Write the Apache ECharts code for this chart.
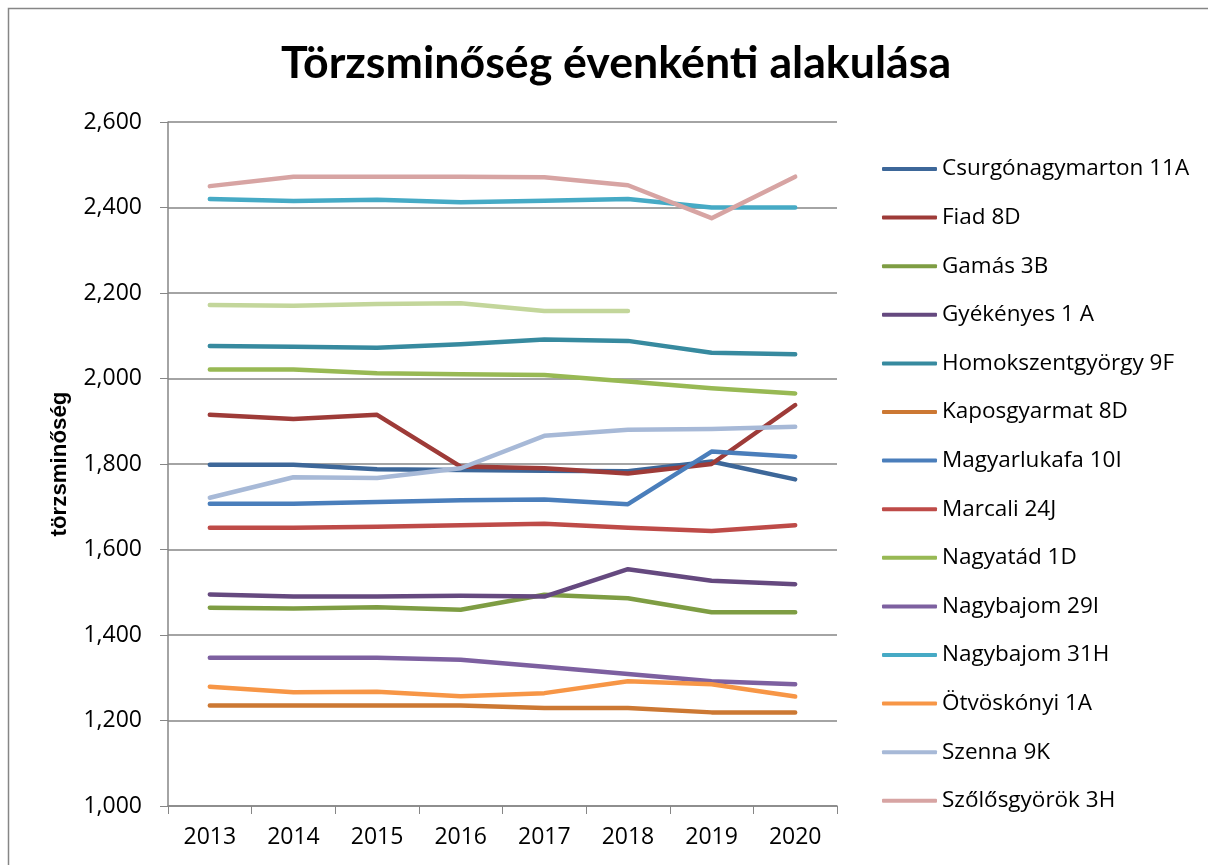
<!DOCTYPE html>
<html>
<head>
<meta charset="utf-8">
<title>Törzsminőség évenkénti alakulása</title>
<script src="https://cdn.jsdelivr.net/npm/echarts@6/dist/echarts.min.js"></script>
<style>
  html, body { margin: 0; padding: 0; background: #fff; }
  #chart { width: 1208px; height: 865px; }
</style>
</head>
<body>
<div id="chart"></div>
<script>
// évek
var years = ['2013', '2014', '2015', '2016', '2017', '2018', '2019', '2020'];

// sorozatok (értékek)
var csurgonagymarton = [1798, 1798, 1788, 1786, 1784, 1783, 1806, 1764];
var fiad = [1915, 1905, 1915, 1794, 1790, 1778, 1800, 1938];
var gamas = [1464, 1462, 1465, 1459, 1494, 1486, 1453, 1453];
var gyekenyes = [1495, 1490, 1490, 1492, 1490, 1554, 1527, 1519];
var homokszentgyorgy = [2076, 2074, 2072, 2080, 2091, 2088, 2060, 2057];
var kaposgyarmat = [1235, 1235, 1235, 1235, 1229, 1229, 1219, 1219];
var magyarlukafa = [1707, 1707, 1711, 1715, 1717, 1706, 1829, 1817];
var marcali = [1651, 1651, 1653, 1657, 1660, 1651, 1643, 1657];
var nagyatad = [2021, 2021, 2012, 2010, 2008, 1993, 1977, 1965];
var nagybajom29 = [1347, 1347, 1347, 1342, 1326, 1309, 1292, 1285];
var nagybajom31 = [2420, 2415, 2418, 2412, 2416, 2420, 2400, 2400];
var otvoskonyi = [1279, 1266, 1267, 1257, 1264, 1292, 1285, 1256];
var szenna = [1721, 1769, 1767, 1790, 1866, 1880, 1882, 1887];
var szolosgyorok = [2450, 2472, 2472, 2472, 2471, 2452, 2375, 2472];
// jelmagyarázat nélküli sor
var extra = [2172, 2170, 2174, 2176, 2158, 2158, null, null];

var yTicks = { min: 1000, max: 2600, step: 200 };

var names = ['Csurgónagymarton 11A', 'Fiad 8D', 'Gamás 3B', 'Gyékényes 1 A',
  'Homokszentgyörgy 9F', 'Kaposgyarmat 8D', 'Magyarlukafa 10I', 'Marcali 24J',
  'Nagyatád 1D', 'Nagybajom 29I', 'Nagybajom 31H', 'Ötvöskónyi 1A',
  'Szenna 9K', 'Szőlősgyörök 3H'];
var values = [csurgonagymarton, fiad, gamas, gyekenyes, homokszentgyorgy,
  kaposgyarmat, magyarlukafa, marcali, nagyatad, nagybajom29, nagybajom31,
  otvoskonyi, szenna, szolosgyorok];
var colors = ['#3D6799', '#9E3B38', '#7E9D43', '#65497F', '#378A9F', '#CC7833',
  '#4A7EBB', '#BE4B48', '#98B954', '#7D60A0', '#46AAC5', '#F79646',
  '#A7B9D7', '#D7A4A3'];

var series = names.map(function (n, i) {
  return {
    name: n,
    type: 'line',
    data: values[i],
    showSymbol: false,
    symbol: 'none',
    color: colors[i],
    lineStyle: { width: 4.5, cap: 'round', join: 'round', color: colors[i] }
  };
});
// a halványzöld sor a jelmagyarázatban nem szerepel
series.splice(12, 0, {
  name: 'extra',
  type: 'line',
  data: extra,
  showSymbol: false,
  symbol: 'none',
  color: '#C3D69B',
  lineStyle: { width: 4.5, cap: 'round', join: 'round', color: '#C3D69B' }
});

var font = 'Open Sans, Noto Sans, sans-serif';

var chart = echarts.init(document.getElementById('chart'));
chart.setOption({
  backgroundColor: '#fff',
  animation: false,
  graphic: [{
    type: 'rect',
    shape: { x: 8.5, y: 8.5, width: 1300, height: 1000 },
    style: { fill: 'none', stroke: '#868686', lineWidth: 1.5 },
    silent: true
  }],
  title: {
    text: 'Törzsminőség évenkénti alakulása',
    left: 611,
    textAlign: 'center',
    top: 36,
    textStyle: { fontFamily: 'Lato, sans-serif', fontWeight: 'bold', fontSize: 44.7, color: '#000' }
  },
  legend: {
    data: names,
    orient: 'vertical',
    left: 877,
    top: 151,
    icon: 'roundRect',
    itemWidth: 55,
    itemHeight: 4,
    itemGap: 22.6,
    textStyle: { fontFamily: font, fontSize: 22.5, color: '#000', lineHeight: 26 }
  },
  grid: { left: 168, right: 371, top: 122, bottom: 59 },
  xAxis: {
    type: 'category',
    data: years,
    boundaryGap: true,
    axisLine: { lineStyle: { color: '#868686', width: 1.5 } },
    axisTick: { show: true, length: 8, lineStyle: { color: '#868686' } },
    axisLabel: { fontFamily: font, fontSize: 23, color: '#000', margin: 20 }
  },
  yAxis: {
    type: 'value',
    min: yTicks.min,
    max: yTicks.max,
    interval: yTicks.step,
    name: 'törzsminőség',
    nameLocation: 'middle',
    nameGap: 97,
    nameTextStyle: { fontFamily: 'Liberation Sans Narrow, Liberation Sans, sans-serif', fontWeight: 'bold', fontSize: 22.3, color: '#000' },
    axisLine: { show: true, lineStyle: { color: '#868686', width: 1.5 } },
    axisTick: { show: true, length: 8, lineStyle: { color: '#868686' } },
    splitLine: { lineStyle: { color: '#868686', width: 1.5 } },
    axisLabel: {
      fontFamily: font, fontSize: 23, color: '#000', margin: 26,
      formatter: function (v) { return v.toLocaleString('en-US'); }
    }
  },
  series: series
});
</script>
</body>
</html>
